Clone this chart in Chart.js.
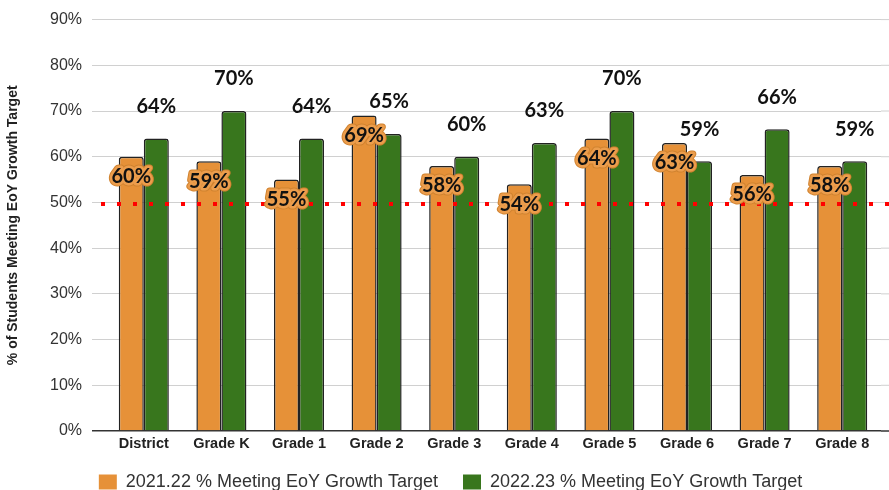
<!DOCTYPE html>
<html>
<head>
<meta charset="utf-8">
<script src="https://cdn.jsdelivr.net/npm/chart.js@4.4.1/dist/chart.umd.min.js"></script>
<style>
  html, body { margin: 0; padding: 0; background: #fff; }
  #wrap { width: 889px; height: 490px; }
</style>
</head>
<body>
<div id="wrap"><canvas id="chart-growth"></canvas></div>
<script>
// Datos
const categories = ['District', 'Grade K', 'Grade 1', 'Grade 2', 'Grade 3', 'Grade 4', 'Grade 5', 'Grade 6', 'Grade 7', 'Grade 8'];
const values2122 = [60, 59, 55, 69, 58, 54, 64, 63, 56, 58];
const values2223 = [64, 70, 64, 65, 60, 63, 70, 59, 66, 59];
const seriesNames = ['2021.22 % Meeting EoY Growth Target', '2022.23 % Meeting EoY Growth Target'];
const yTickLabels = ['0%', '10%', '20%', '30%', '40%', '50%', '60%', '70%', '80%', '90%'];
const targetValue = 49.5;

const colorOrange = '#e69138';
const colorGreen = '#38761d';
const gridColor = '#d0d0d0';
const fontSans = "'Liberation Sans', Arial, sans-serif";
const fontLabel = "Lato, 'Open Sans', sans-serif";

// Alarga las líneas de la cuadrícula hasta el borde derecho
const gridExtend = {
    id: 'gridExtend',
    beforeDatasetsDraw(chart) {
        const { ctx, chartArea, scales: { y } } = chart;
        ctx.save();
        y.ticks.forEach(t => {
            const py = y.getPixelForValue(t.value);
            ctx.strokeStyle = t.value === 0 ? '#333' : gridColor;
            ctx.lineWidth = t.value === 0 ? 1.5 : 1;
            ctx.beginPath();
            ctx.moveTo(chartArea.right, py);
            ctx.lineTo(chart.width, py);
            ctx.stroke();
        });
        ctx.restore();
    }
};

// Ajusta la leyenda (más a la derecha y un poco más arriba)
const legendShift = {
    id: 'legendShift',
    afterLayout(chart) {
        const lg = chart.legend;
        if (lg) {
            lg.left += 10;
            lg.right += 10;
            lg.top -= 13;
            lg.bottom = chart.height;
        }
    }
};

// Línea roja punteada de la meta
const targetLine = {
    id: 'targetLine',
    afterDatasetsDraw(chart) {
        const { ctx, chartArea, scales: { y } } = chart;
        const py = Math.round(y.getPixelForValue(targetValue)) - 1;
        ctx.save();
        ctx.strokeStyle = '#ff0000';
        ctx.lineWidth = 4;
        ctx.setLineDash([4, 12]);
        ctx.beginPath();
        ctx.moveTo(chartArea.left - 4, py);
        ctx.lineTo(chart.width, py);
        ctx.stroke();
        ctx.restore();
    }
};

// Etiquetas de valores
const valueLabels = {
    id: 'valueLabels',
    afterDatasetsDraw(chart) {
        const { ctx } = chart;
        ctx.save();
        ctx.font = "bold 20px " + fontLabel;
        ctx.textAlign = 'center';
        ctx.textBaseline = 'middle';
        ctx.lineJoin = 'round';
        chart.data.datasets.forEach((ds, di) => {
            const meta = chart.getDatasetMeta(di);
            meta.data.forEach((bar, i) => {
                const txt = Math.round(ds.data[i]) + '%';
                if (di === 0) {
                    const ly = bar.y + 20;
                    ctx.strokeStyle = '#d08330';
                    ctx.lineWidth = 7;
                    ctx.strokeText(txt, bar.x, ly);
                    ctx.strokeStyle = '#ec9d4c';
                    ctx.lineWidth = 5;
                    ctx.strokeText(txt, bar.x, ly);
                    ctx.fillStyle = '#111';
                    ctx.fillText(txt, bar.x, ly);
                } else {
                    ctx.fillStyle = '#111';
                    ctx.fillText(txt, bar.x, bar.y - 32);
                }
            });
        });
        ctx.restore();
    }
};

const ctxGrowth = document.getElementById('chart-growth');
new Chart(ctxGrowth, {
    type: 'bar',
    data: {
        labels: categories,
        datasets: [
            {
                label: seriesNames[0],
                data: values2122,
                backgroundColor: colorOrange,
                borderColor: '#222',
                borderWidth: 1.5,
                borderRadius: { topLeft: 3, topRight: 3 },
                borderSkipped: 'bottom'
            },
            {
                label: seriesNames[1],
                data: values2223,
                backgroundColor: colorGreen,
                borderColor: '#222',
                borderWidth: 1.5,
                borderRadius: { topLeft: 3, topRight: 3 },
                borderSkipped: 'bottom'
            }
        ]
    },
    options: {
        responsive: true,
        maintainAspectRatio: false,
        animation: false,
        datasets: { bar: { categoryPercentage: 0.645, barPercentage: 1.0 } },
        layout: { padding: { top: 17, right: 8, left: 0, bottom: 0 } },
        plugins: {
            tooltip: { enabled: false },
            legend: {
                position: 'bottom',
                maxHeight: 29,
                labels: {
                    boxWidth: 18,
                    boxHeight: 15,
                    padding: 25,
                    color: '#333',
                    font: { size: 18, family: fontSans },
                    generateLabels(chart) {
                        return Chart.defaults.plugins.legend.labels.generateLabels(chart).map(l => {
                            l.strokeStyle = l.fillStyle;
                            l.lineWidth = 0;
                            return l;
                        });
                    }
                }
            }
        },
        scales: {
            x: {
                grid: { display: false, drawTicks: false },
                border: { display: false },
                ticks: {
                    color: '#222',
                    padding: 4,
                    maxRotation: 0,
                    autoSkip: false,
                    font: { size: 14.5, weight: 'bold', family: fontSans }
                },
                afterFit(scale) { scale.height = 30; }
            },
            y: {
                min: 0,
                max: 90,
                ticks: {
                    stepSize: 10,
                    padding: 10,
                    color: '#333',
                    font: { size: 16, family: fontSans },
                    callback: (v, i) => yTickLabels[i]
                },
                grid: {
                    tickLength: 13,
                    color: c => (c.tick && c.tick.value === 0 ? '#333' : gridColor),
                    lineWidth: c => (c.tick && c.tick.value === 0 ? 1.5 : 1)
                },
                border: { display: false },
                title: {
                    display: true,
                    text: '% of Students Meeting EoY Growth Target',
                    color: '#222',
                    font: { size: 14, weight: 'bold', family: fontSans },
                    padding: { top: 5, bottom: 0 }
                },
                afterFit(scale) { scale.width = 105; }
            }
        }
    },
    plugins: [gridExtend, legendShift, targetLine, valueLabels]
});
</script>
</body>
</html>
